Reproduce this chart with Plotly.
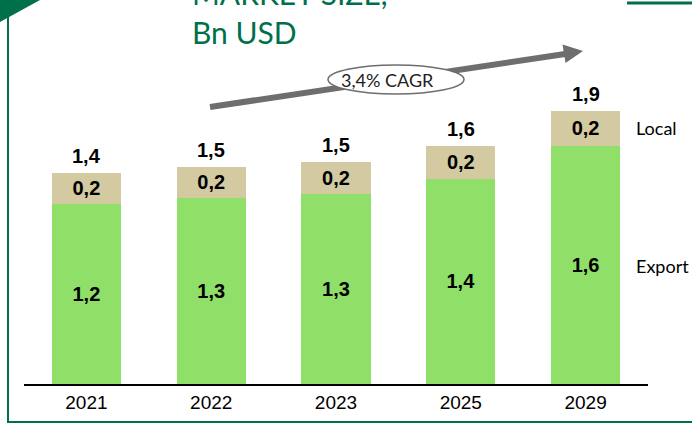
import plotly.graph_objects as go

W, H = 692, 424

years = ["2021", "2022", "2023", "2025", "2029"]
export_vals = [1.20, 1.24, 1.27, 1.37, 1.59]
local_vals = [0.21, 0.21, 0.21, 0.22, 0.23]
export_labels = ["1,2", "1,3", "1,3", "1,4", "1,6"]
local_labels = ["0,2", "0,2", "0,2", "0,2", "0,2"]
total_labels = ["1,4", "1,5", "1,5", "1,6", "1,9"]
totals = [e + l for e, l in zip(export_vals, local_vals)]

GREEN_BAR = "#8FDF69"
TAN = "#D3CAA1"
DARK_GREEN = "#00704A"
GRAY = "#6E6E6E"
LABEL_FONT = dict(family="Liberation Sans, Arial, sans-serif", size=20, color="black")


def px(x):
    return x / W


def py(y):
    return 1 - y / H


fig = go.Figure()
fig.add_trace(go.Bar(
    x=years, y=export_vals, marker=dict(color=GREEN_BAR, line=dict(width=0)),
    text=export_labels, textposition="inside", insidetextanchor="middle",
    textangle=0, constraintext="none",
    textfont=dict(LABEL_FONT, weight="bold"), width=0.555, hoverinfo="skip",
))
fig.add_trace(go.Bar(
    x=years, y=local_vals, marker=dict(color=TAN, line=dict(width=0)),
    text=local_labels, textposition="inside", insidetextanchor="middle",
    textangle=0, constraintext="none",
    textfont=dict(LABEL_FONT, weight="bold"), width=0.555, hoverinfo="skip",
))

shapes = []
# top-left green triangle
shapes.append(dict(type="path", xref="paper", yref="paper",
                   path=f"M {px(0)},{py(0)} L {px(40)},{py(0)} L {px(0)},{py(22)} Z",
                   fillcolor=DARK_GREEN, line=dict(width=0)))
# left frame line
shapes.append(dict(type="line", xref="paper", yref="paper",
                   x0=px(8), x1=px(8), y0=py(0), y1=py(423),
                   line=dict(color=DARK_GREEN, width=2)))
# bottom frame line
shapes.append(dict(type="line", xref="paper", yref="paper",
                   x0=px(7), x1=px(692), y0=py(422), y1=py(422),
                   line=dict(color=DARK_GREEN, width=2)))
# top-right line
shapes.append(dict(type="line", xref="paper", yref="paper",
                   x0=px(627), x1=px(692), y0=py(3), y1=py(3),
                   line=dict(color=DARK_GREEN, width=3)))
# CAGR arrow line
shapes.append(dict(type="line", xref="paper", yref="paper",
                   x0=px(210), y0=py(107), x1=px(565), y1=py(54),
                   line=dict(color=GRAY, width=6)))
# arrow head
shapes.append(dict(type="path", xref="paper", yref="paper",
                   path=f"M {px(583)},{py(51)} L {px(565.5)},{py(63)} L {px(562.5)},{py(44.5)} Z",
                   fillcolor=GRAY, line=dict(width=0)))
# CAGR ellipse
shapes.append(dict(type="circle", xref="paper", yref="paper",
                   x0=px(328), x1=px(464), y0=py(65), y1=py(94),
                   fillcolor="white", line=dict(color=GRAY, width=1.5)))

annotations = [
    dict(x=px(387), y=py(79.5), xref="paper", yref="paper", text="3,4% CAGR",
         xanchor="center", yanchor="middle", showarrow=False,
         font=dict(family="Lato, sans-serif", size=18, color="#222222")),
    dict(x=px(190), y=py(32), xref="paper", yref="paper", text="Bn USD",
         xanchor="left", yanchor="middle", showarrow=False,
         font=dict(family="Lato, sans-serif", size=30, color=DARK_GREEN)),
    dict(x=px(190), y=py(-7), xref="paper", yref="paper", text="MARKET SIZE,",
         xanchor="left", yanchor="middle", showarrow=False,
         font=dict(family="Lato, sans-serif", size=30, color=DARK_GREEN)),
    dict(x=px(634), y=py(128), xref="paper", yref="paper", text="Local",
         xanchor="left", yanchor="middle", showarrow=False,
         font=dict(family="Lato, sans-serif", size=18, color="black")),
    dict(x=px(634), y=py(266), xref="paper", yref="paper", text="Export",
         xanchor="left", yanchor="middle", showarrow=False,
         font=dict(family="Lato, sans-serif", size=18, color="black")),
]
for i, (tot, lab) in enumerate(zip(totals, total_labels)):
    annotations.append(dict(x=i, y=tot, xref="x", yref="y", text=lab,
                            xanchor="center", yanchor="middle", yshift=17,
                            showarrow=False,
                            font=dict(LABEL_FONT, weight="bold")))

fig.update_layout(
    width=W, height=H, barmode="stack", showlegend=False,
    margin=dict(l=0, r=0, t=0, b=0, autoexpand=False),
    paper_bgcolor="white", plot_bgcolor="white",
    shapes=shapes, annotations=annotations,
    xaxis=dict(type="category", domain=[24 / W, 648 / W], range=[-0.5, 4.5], showgrid=False,
               showline=True, linecolor="black", linewidth=2, ticks="",
               automargin=False,
               tickfont=dict(family="Liberation Sans, Arial, sans-serif",
                             size=19, color="black"),
               fixedrange=True),
    yaxis=dict(domain=[1 - 384 / H, 1], range=[0, 384 / 150], visible=False,
               automargin=False,
               showgrid=False, zeroline=False, fixedrange=True),
)

fig.write_html("out.html", config={"displayModeBar": False},
               post_script="document.body.style.margin='0';document.body.style.overflow='hidden';")
